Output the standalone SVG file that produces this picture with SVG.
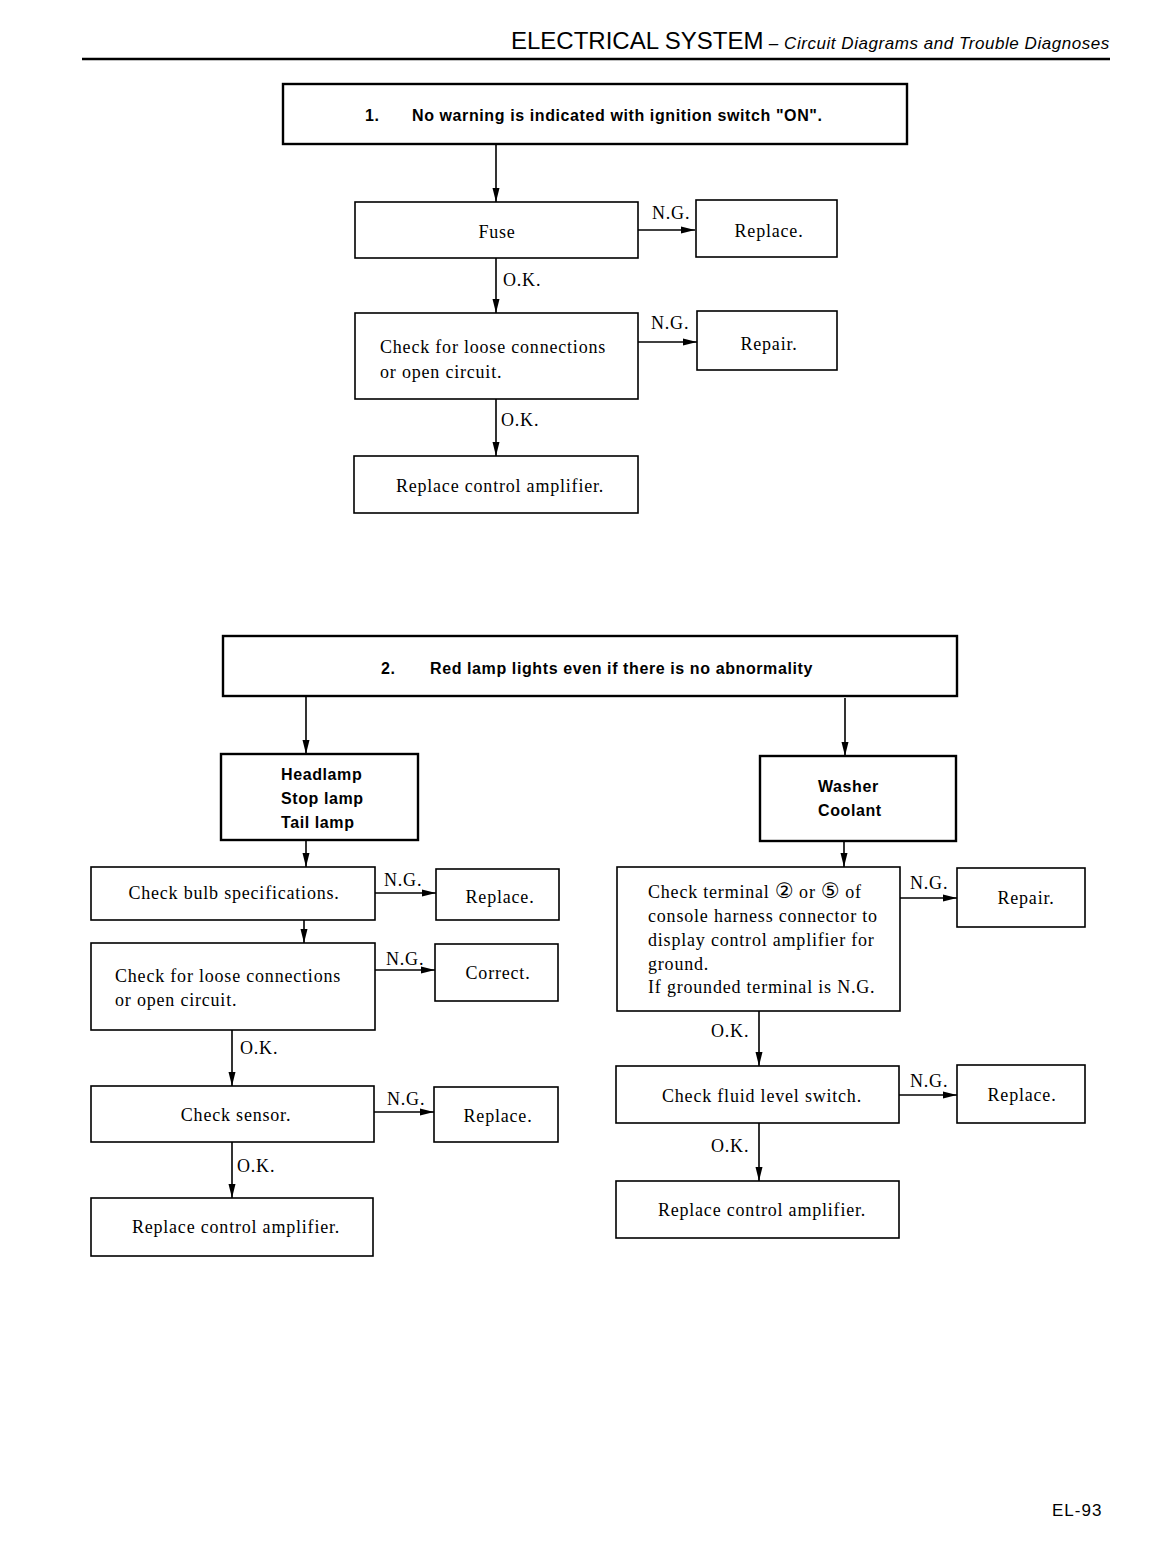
<svg xmlns="http://www.w3.org/2000/svg" width="1153" height="1553" viewBox="0 0 1153 1553">
<style>
.box{fill:#fff;stroke:#000;stroke-width:1.6}
.hbox{fill:#fff;stroke:#000;stroke-width:2.4}
.ln{fill:none;stroke:#000;stroke-width:1.6}
.s{font-family:"Liberation Serif","Times New Roman",serif;font-size:18px;fill:#000;letter-spacing:0.8px}
.b{font-family:"Liberation Sans",Arial,sans-serif;font-size:16px;font-weight:bold;fill:#000;letter-spacing:0.6px}
.c{text-anchor:middle}
.cn{font-family:"DejaVu Sans",sans-serif;font-size:21px;letter-spacing:0}
</style>
<defs>
<marker id="ah" markerUnits="userSpaceOnUse" markerWidth="16" markerHeight="10" refX="14" refY="5" orient="auto">
<path d="M0,1.5 L14,5 L0,8.5 Z" fill="#000"/>
</marker>
</defs>
<rect width="1153" height="1553" fill="#fff"/>
<g id="header">
<text x="511" y="49" font-family="'Liberation Sans',Arial,sans-serif" font-size="24">ELECTRICAL SYSTEM<tspan font-size="17" font-style="italic" letter-spacing="0.55"> – Circuit Diagrams and Trouble Diagnoses</tspan></text>
<line x1="82" y1="59" x2="1110" y2="59" stroke="#000" stroke-width="2.5"/>
</g>
<g id="connectors">
<line class="ln" x1="496" y1="144" x2="496" y2="202" marker-end="url(#ah)"/>
<line class="ln" x1="638" y1="230" x2="695" y2="230" marker-end="url(#ah)"/>
<line class="ln" x1="496" y1="258" x2="496" y2="313" marker-end="url(#ah)"/>
<line class="ln" x1="638" y1="342" x2="697" y2="342" marker-end="url(#ah)"/>
<line class="ln" x1="496" y1="399" x2="496" y2="456" marker-end="url(#ah)"/>
<line class="ln" x1="306" y1="696" x2="306" y2="754" marker-end="url(#ah)"/>
<line class="ln" x1="845" y1="698" x2="845" y2="756" marker-end="url(#ah)"/>
<line class="ln" x1="306" y1="840" x2="306" y2="867" marker-end="url(#ah)"/>
<line class="ln" x1="375" y1="893" x2="436" y2="893" marker-end="url(#ah)"/>
<line class="ln" x1="304" y1="920" x2="304" y2="943" marker-end="url(#ah)"/>
<line class="ln" x1="375" y1="970" x2="435" y2="970" marker-end="url(#ah)"/>
<line class="ln" x1="232" y1="1030" x2="232" y2="1086" marker-end="url(#ah)"/>
<line class="ln" x1="374" y1="1112" x2="434" y2="1112" marker-end="url(#ah)"/>
<line class="ln" x1="232" y1="1142" x2="232" y2="1198" marker-end="url(#ah)"/>
<line class="ln" x1="844" y1="841" x2="844" y2="867" marker-end="url(#ah)"/>
<line class="ln" x1="900" y1="898" x2="957" y2="898" marker-end="url(#ah)"/>
<line class="ln" x1="759" y1="1011" x2="759" y2="1066" marker-end="url(#ah)"/>
<line class="ln" x1="899" y1="1095" x2="957" y2="1095" marker-end="url(#ah)"/>
<line class="ln" x1="759" y1="1123" x2="759" y2="1181" marker-end="url(#ah)"/>
<text class="s" x="652" y="219">N.G.</text>
<text class="s" x="503" y="286">O.K.</text>
<text class="s" x="651" y="329">N.G.</text>
<text class="s" x="501" y="426">O.K.</text>
<text class="s" x="384" y="886">N.G.</text>
<text class="s" x="386" y="965">N.G.</text>
<text class="s" x="240" y="1054">O.K.</text>
<text class="s" x="387" y="1105">N.G.</text>
<text class="s" x="237" y="1172">O.K.</text>
<text class="s" x="910" y="889">N.G.</text>
<text class="s" x="711" y="1037">O.K.</text>
<text class="s" x="910" y="1087">N.G.</text>
<text class="s" x="711" y="1152">O.K.</text>
</g>
<g id="title1">
<rect class="hbox" x="283" y="84" width="624" height="60"/>
<text class="b" x="365" y="121">1.</text>
<text class="b" x="412" y="121">No warning is indicated with ignition switch "ON".</text>
</g>
<g id="fuse"><rect class="box" x="355" y="202" width="283" height="56"/><text class="s c" x="497" y="238">Fuse</text></g>
<g id="replace1"><rect class="box" x="696" y="200" width="141" height="57"/><text class="s c" x="769" y="237">Replace.</text></g>
<g id="loose1"><rect class="box" x="355" y="313" width="283" height="86"/><text class="s" x="380" y="353">Check for loose connections</text><text class="s" x="380" y="378">or open circuit.</text></g>
<g id="repair1"><rect class="box" x="697" y="311" width="140" height="59"/><text class="s c" x="769" y="350">Repair.</text></g>
<g id="amp1"><rect class="box" x="354" y="456" width="284" height="57"/><text class="s c" x="500" y="492">Replace control amplifier.</text></g>
<g id="title2">
<rect class="hbox" x="223" y="636" width="734" height="60"/>
<text class="b" x="381" y="674">2.</text>
<text class="b" x="430" y="674">Red lamp lights even if there is no abnormality</text>
</g>
<g id="lamps"><rect class="hbox" x="221" y="754" width="197" height="86"/><text class="b" x="281" y="780">Headlamp</text><text class="b" x="281" y="804">Stop lamp</text><text class="b" x="281" y="828">Tail lamp</text></g>
<g id="washer"><rect class="hbox" x="760" y="756" width="196" height="85"/><text class="b" x="818" y="792">Washer</text><text class="b" x="818" y="816">Coolant</text></g>
<g id="bulb"><rect class="box" x="91" y="867" width="284" height="53"/><text class="s c" x="234" y="899">Check bulb specifications.</text></g>
<g id="replace2"><rect class="box" x="436" y="869" width="123" height="51"/><text class="s c" x="500" y="903">Replace.</text></g>
<g id="loose2"><rect class="box" x="91" y="943" width="284" height="87"/><text class="s" x="115" y="982">Check for loose connections</text><text class="s" x="115" y="1006">or open circuit.</text></g>
<g id="correct"><rect class="box" x="435" y="944" width="123" height="57"/><text class="s c" x="498" y="979">Correct.</text></g>
<g id="sensor"><rect class="box" x="91" y="1086" width="283" height="56"/><text class="s c" x="236" y="1121">Check sensor.</text></g>
<g id="replace3"><rect class="box" x="434" y="1087" width="124" height="55"/><text class="s c" x="498" y="1122">Replace.</text></g>
<g id="amp2"><rect class="box" x="91" y="1198" width="282" height="58"/><text class="s c" x="236" y="1233">Replace control amplifier.</text></g>
<g id="terminal"><rect class="box" x="617" y="867" width="283" height="144"/>
<text class="s" x="648" y="898">Check terminal <tspan class="cn">②</tspan> or <tspan class="cn">⑤</tspan> of</text>
<text class="s" x="648" y="922">console harness connector to</text>
<text class="s" x="648" y="946">display control amplifier for</text>
<text class="s" x="648" y="970">ground.</text>
<text class="s" x="648" y="993">If grounded terminal is N.G.</text></g>
<g id="repair2"><rect class="box" x="957" y="868" width="128" height="59"/><text class="s c" x="1026" y="904">Repair.</text></g>
<g id="fluid"><rect class="box" x="616" y="1066" width="283" height="57"/><text class="s c" x="762" y="1102">Check fluid level switch.</text></g>
<g id="replace4"><rect class="box" x="957" y="1065" width="128" height="58"/><text class="s c" x="1022" y="1101">Replace.</text></g>
<g id="amp3"><rect class="box" x="616" y="1181" width="283" height="57"/><text class="s c" x="762" y="1216">Replace control amplifier.</text></g>
<g id="footer"><text x="1052" y="1516" font-family="'Liberation Sans',Arial,sans-serif" font-size="17" letter-spacing="1">EL-93</text></g>
</svg>
